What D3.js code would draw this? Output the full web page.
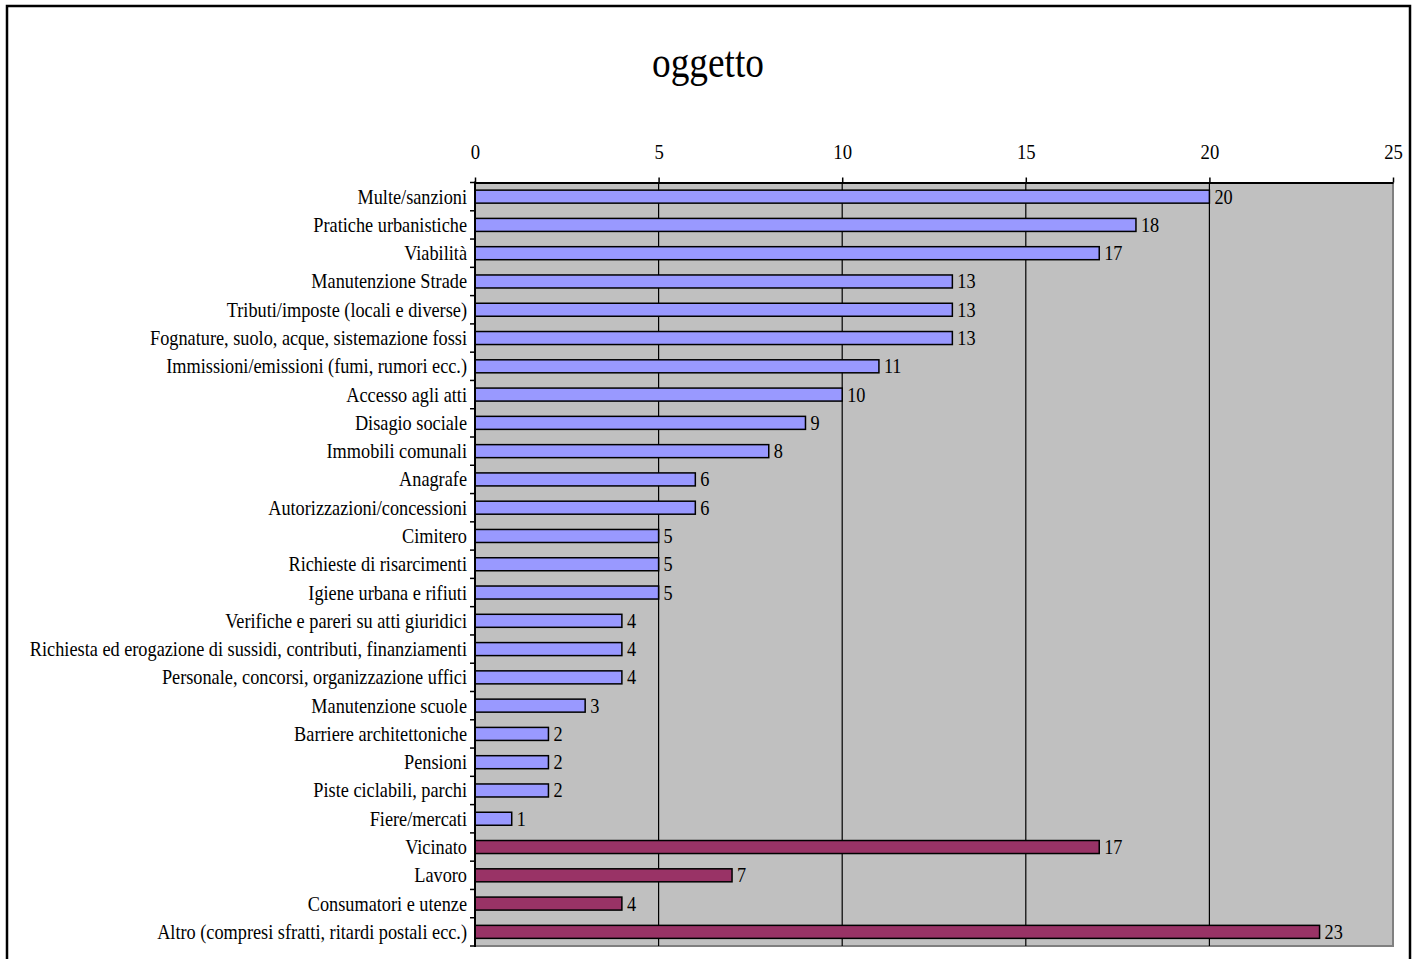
<!DOCTYPE html>
<html>
<head>
<meta charset="utf-8">
<script src="https://cdn.jsdelivr.net/npm/d3@7"></script>
<style>
  body { margin: 0; background: #fff; }
  svg text { font-family: "Liberation Serif", Tinos, "Times New Roman", serif; fill: #000; }
</style>
</head>
<body>
<div id="chart"></div>
<script>
// categorie (dall'alto in basso)
var categories = [
  "Multe/sanzioni",
  "Pratiche urbanistiche",
  "Viabilità",
  "Manutenzione Strade",
  "Tributi/imposte (locali e diverse)",
  "Fognature, suolo, acque, sistemazione fossi",
  "Immissioni/emissioni (fumi, rumori ecc.)",
  "Accesso agli atti",
  "Disagio sociale",
  "Immobili comunali",
  "Anagrafe",
  "Autorizzazioni/concessioni",
  "Cimitero",
  "Richieste di risarcimenti",
  "Igiene urbana e rifiuti",
  "Verifiche e pareri su atti giuridici",
  "Richiesta ed erogazione di sussidi, contributi, finanziamenti",
  "Personale, concorsi, organizzazione uffici",
  "Manutenzione scuole",
  "Barriere architettoniche",
  "Pensioni",
  "Piste ciclabili, parchi",
  "Fiere/mercati",
  "Vicinato",
  "Lavoro",
  "Consumatori e utenze",
  "Altro (compresi sfratti, ritardi postali ecc.)"
];
var values = [20, 18, 17, 13, 13, 13, 11, 10, 9, 8, 6, 6, 5, 5, 5, 4, 4, 4, 3, 2, 2, 2, 1, 17, 7, 4, 23];
// 0 = gruppo principale, 1 = ultime quattro voci
var groups = [0,0,0,0,0,0,0,0,0,0,0,0,0,0,0,0,0,0,0,0,0,0,0,1,1,1,1];
var xTicks = [0, 5, 10, 15, 20, 25];
var title = "oggetto";

var W = 1416, H = 959;
var SX = 0.85; // il carattere originale è più stretto
var colors = ["#9999FF", "#993366"];

var svg = d3.select("#chart").append("svg").attr("width", W).attr("height", H);

// cornice esterna
svg.append("rect")
  .attr("x", 7).attr("y", 6).attr("width", 1403).attr("height", 970)
  .attr("fill", "none").attr("stroke", "#000").attr("stroke-width", 2.5);

// titolo
svg.append("text")
  .attr("transform", "translate(708,77) scale(0.83,1)")
  .attr("text-anchor", "middle")
  .style("font-size", "45px")
  .text(title);

var x = d3.scaleLinear().domain([0, 25]).range([475, 1393]);
var y = d3.scaleBand().domain(categories).range([182.5, 946]).padding(0);
var barH = y.bandwidth() * 0.46;

// area del grafico
svg.append("rect")
  .attr("x", x(0)).attr("y", y.range()[0])
  .attr("width", x(25) - x(0)).attr("height", y.range()[1] - y.range()[0])
  .attr("fill", "#C0C0C0");
// bordo grigio destro e inferiore
svg.append("path")
  .attr("d", "M" + x(25) + "," + y.range()[0] + "V" + y.range()[1] + "H" + x(0))
  .attr("fill", "none").attr("stroke", "#808080").attr("stroke-width", 2);

// griglia verticale
svg.selectAll("line.grid")
  .data(xTicks.filter(function(t){ return t > 0 && t < 25; }))
  .enter().append("line")
  .attr("class", "grid")
  .attr("x1", function(d){ return x(d); }).attr("x2", function(d){ return x(d); })
  .attr("y1", y.range()[0]).attr("y2", y.range()[1])
  .attr("stroke", "#000").attr("stroke-width", 1.2);

// asse superiore
var xAxis = d3.axisTop(x).tickValues(xTicks).tickSize(5).tickPadding(19).tickSizeOuter(0);
var gx = svg.append("g").attr("transform", "translate(0," + y.range()[0] + ")").call(xAxis);
gx.attr("font-family", null);
gx.select(".domain").attr("stroke", "#000").attr("stroke-width", 2);
gx.selectAll(".tick line").attr("stroke", "#000").attr("stroke-width", 1.5);
gx.selectAll(".tick text")
  .attr("transform", "scale(" + SX + ",1)")
  .style("font-size", "22px");

// barre
svg.selectAll("rect.bar")
  .data(categories)
  .enter().append("rect")
  .attr("class", "bar")
  .attr("x", x(0))
  .attr("y", function(d){ return y(d) + (y.bandwidth() - barH) / 2; })
  .attr("width", function(d, i){ return x(values[i]) - x(0); })
  .attr("height", barH)
  .attr("fill", function(d, i){ return colors[groups[i]]; })
  .attr("stroke", "#000").attr("stroke-width", 1.5);

// asse sinistro
svg.append("line")
  .attr("x1", x(0)).attr("x2", x(0))
  .attr("y1", y.range()[0] - 1).attr("y2", y.range()[1] + 1)
  .attr("stroke", "#000").attr("stroke-width", 2);
svg.selectAll("line.ytick")
  .data(d3.range(categories.length + 1))
  .enter().append("line")
  .attr("class", "ytick")
  .attr("x1", x(0) - 5).attr("x2", x(0))
  .attr("y1", function(i){ return y.range()[0] + i * y.step(); })
  .attr("y2", function(i){ return y.range()[0] + i * y.step(); })
  .attr("stroke", "#000").attr("stroke-width", 1.5);

// etichette categorie
svg.selectAll("text.cat")
  .data(categories)
  .enter().append("text")
  .attr("class", "cat")
  .attr("text-anchor", "end")
  .attr("transform", function(d){
    return "translate(" + (x(0) - 8) + "," + (y(d) + y.bandwidth() / 2 + 7) + ") scale(" + SX + ",1)";
  })
  .style("font-size", "21.5px")
  .text(function(d){ return d; });

// etichette valori
svg.selectAll("text.val")
  .data(categories)
  .enter().append("text")
  .attr("class", "val")
  .attr("transform", function(d, i){
    return "translate(" + (x(values[i]) + 5) + "," + (y(d) + y.bandwidth() / 2 + 7) + ") scale(" + SX + ",1)";
  })
  .style("font-size", "21.5px")
  .text(function(d, i){ return values[i]; });
</script>
</body>
</html>
